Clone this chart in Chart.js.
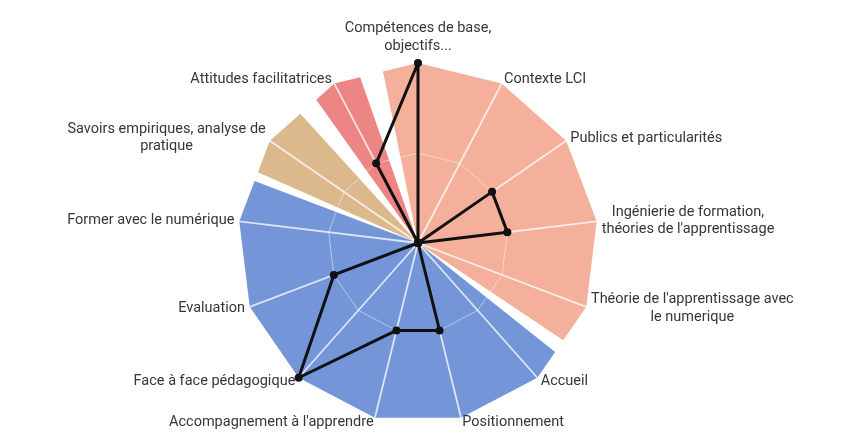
<!DOCTYPE html>
<html>
<head>
<meta charset="utf-8">
<script src="https://cdn.jsdelivr.net/npm/chart.js@4.4.1/dist/chart.umd.min.js"></script>
<style>
  html, body { margin: 0; padding: 0; background: #ffffff; }
  canvas { display: block; }
</style>
</head>
<body>
<canvas id="chart" width="841" height="439"></canvas>
<script>
// ---------- data ----------
const categories = [
  ['Compétences de base,', 'objectifs...'],
  'Contexte LCI',
  'Publics et particularités',
  ['Ingénierie de formation,', "théories de l'apprentissage"],
  ["Théorie de l'apprentissage avec", 'le numerique'],
  'Accueil',
  'Positionnement',
  "Accompagnement à l'apprendre",
  'Face à face pédagogique',
  'Evaluation',
  'Former avec le numérique',
  ['Savoirs empiriques, analyse de', 'pratique'],
  'Attitudes facilitatrices'
];
const scores = [2, 0, 1, 1, 0, 0, 1, 1, 2, 1, 0, 0, 1];
const scaleMax = 2;
// group of each category (background colour family)
const categoryGroup = [0, 0, 0, 0, 0, 1, 1, 1, 1, 1, 1, 2, 3];

// ---------- style ----------
const groupStyles = [
  { color: '#F4B09A', from: 348.2, to: 123.6 },
  { color: '#7496D9', from: 128.3, to: 290.8 },
  { color: '#DBB98C', from: 293.8, to: 317.7 },
  { color: '#EE8585', from: 324.6, to: 340.9 }
];
const SUB = 36;                       // angular sub-steps per category
const NCAT = categories.length;
const NAX = NCAT * SUB;
const STEP = 360 / NAX;
const SEG = 360 / NCAT;

const axisLabels = [];
for (let i = 0; i < NAX; i++) {
  const k = i / SUB;
  const lab = Number.isInteger(k) ? categories[k] : '';
  axisLabels.push(Array.isArray(lab) ? lab.join(' ') : lab);
}

function axisOf(deg) { return ((Math.round(deg / STEP) % NAX) + NAX) % NAX; }
// value that puts a point of axis idx on the outer polygon (13-gon) edge
function polygonEdge(idx) {
  const a = idx * STEP;
  const off = (a % SEG) - SEG / 2;
  return scaleMax * Math.cos(Math.PI / NCAT) / Math.cos(off * Math.PI / 180);
}

function emptyRow() { return new Array(NAX).fill(null); }

const datasets = [];

// black score polygon (top)
const scoreRow = emptyRow();
scores.forEach((v, k) => { scoreRow[k * SUB] = v; });
datasets.push({
  data: scoreRow, spanGaps: true, fill: false,
  borderColor: '#111111', borderWidth: 3, borderJoinStyle: 'round',
  pointRadius: 4, pointBackgroundColor: '#111111', pointBorderWidth: 0,
  order: 0
});

// white spokes
const spokeRow = emptyRow();
categories.forEach((c, k) => { spokeRow[k * SUB] = scaleMax; spokeRow[k * SUB + 1] = 0; });
datasets.push({
  data: spokeRow, spanGaps: true, fill: false,
  borderColor: 'rgba(255,255,255,0.75)', borderWidth: 1.8, borderJoinStyle: 'bevel',
  pointRadius: 0, order: 1
});

// middle ring
const ringRow = emptyRow();
categories.forEach((c, k) => { ringRow[k * SUB] = scaleMax / 2; });
datasets.push({
  data: ringRow, spanGaps: true, fill: false,
  borderColor: 'rgba(255,255,255,0.45)', borderWidth: 1,
  pointRadius: 0, order: 2
});

// coloured background sectors
groupStyles.forEach((g, gi) => {
  const row = emptyRow();
  categoryGroup.forEach((grp, k) => { if (grp === gi) row[k * SUB] = scaleMax; });
  const s = axisOf(g.from), e = axisOf(g.to);
  row[s] = polygonEdge(s);
  row[e] = polygonEdge(e);
  let span = g.to - g.from; if (span < 0) span += 360;
  const opposite = axisOf(g.from + span / 2 + 180);
  row[opposite] = 0;
  datasets.push({
    data: row, spanGaps: true, fill: true,
    backgroundColor: g.color, borderWidth: 0,
    pointRadius: 0, order: 3
  });
});

const labelPlugin = {
  id: 'categoryLabels',
  afterDatasetsDraw(chart) {
    const sc = chart.scales.r;
    const ctx = chart.ctx;
    const lh = 17.5;
    ctx.save();
    ctx.font = '14.5px Roboto';
    ctx.fillStyle = '#363636';
    ctx.textBaseline = 'middle';
    ctx.textAlign = 'center';
    categories.forEach((lab, k) => {
      const lines = Array.isArray(lab) ? lab : [lab];
      const p = sc.getPointPosition(k * SUB, sc.drawingArea + 5);
      const deg = k * SEG;
      const w = Math.max(...lines.map(l => ctx.measureText(l).width));
      const h = lines.length * lh;
      let cx, top;
      if (deg === 0 || deg === 180) cx = p.x;
      else if (deg < 180) cx = p.x + w / 2;
      else cx = p.x - w / 2;
      if (deg === 0) top = p.y - h - 3;
      else if (deg === 180) top = p.y;
      else top = p.y - h / 2;
      lines.forEach((l, i) => ctx.fillText(l, cx, top + lh * (i + 0.5)));
    });
    ctx.restore();
  }
};

new Chart(document.getElementById('chart'), {
  type: 'radar',
  data: { labels: axisLabels, datasets },
  options: {
    responsive: false,
    animation: false,
    events: [],
    layout: { padding: { left: 238, right: 243, top: 63, bottom: 16 } },
    plugins: { legend: { display: false }, tooltip: { enabled: false } },
    elements: { line: { tension: 0 } },
    scales: {
      r: {
        min: 0, max: scaleMax,
        ticks: { display: false, stepSize: 1 },
        grid: { display: false, circular: true },
        angleLines: { display: false },
        pointLabels: { display: false }
      }
    }
  },
  plugins: [labelPlugin]
});
</script>
</body>
</html>
